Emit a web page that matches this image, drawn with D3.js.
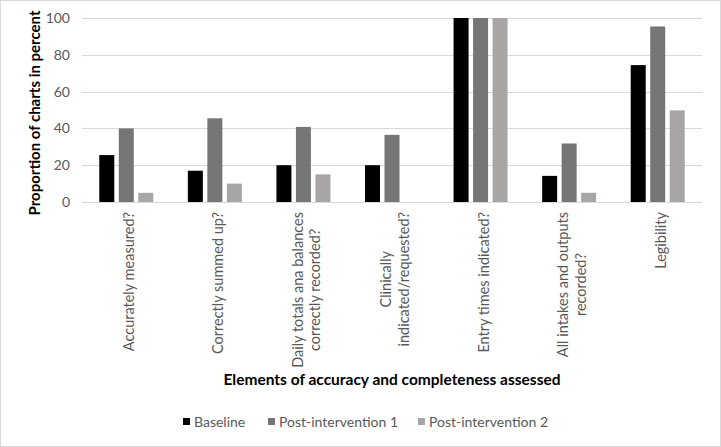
<!DOCTYPE html>
<html><head><meta charset="utf-8">
<script src="https://cdn.jsdelivr.net/npm/d3@7"></script>
<style>body{margin:0;background:#fff}svg{display:block}</style>
</head><body>
<svg id="chart" width="721" height="447"></svg>
<script>
const categories = ["Accurately measured?", "Correctly summed up?", "Daily totals ana balances\ncorrectly recorded?", "Clinically\nindicated/requested?", "Entry times indicated?", "All intakes and outputs\nrecorded?", "Legibility"];
const seriesNames = ["Baseline", "Post-intervention 1", "Post-intervention 2"];
const baseline = [25.5, 17, 20, 20, 100, 14.2, 74.4];
const post1 = [40, 45.5, 40.8, 36.5, 100, 31.8, 95.4];
const post2 = [5, 10, 15, 0, 100, 5, 49.8];
const yTicks = [0, 20, 40, 60, 80, 100];
const colors = ["#000000", "#767676", "#a8a5a4"];

const svg = d3.select("#chart");
const font = "Lato, 'Open Sans', sans-serif";
const W = 721, H = 447;
const m = {left: 82, right: 19, top: 18, bottom: 245};
const x0 = d3.scaleBand().domain(categories).range([m.left, W - m.right]);
const y = d3.scaleLinear().domain([0, 100]).range([H - m.bottom, m.top]);
const series = [baseline, post1, post2];

// outer border
svg.append("rect").attr("x", 0.5).attr("y", 0.5).attr("width", W - 1).attr("height", H - 1)
  .attr("fill", "#fff").attr("stroke", "#d9d9d9");

// gridlines
svg.append("g").selectAll("line").data(yTicks).join("line")
  .attr("x1", m.left).attr("x2", W - m.right)
  .attr("y1", d => Math.round(y(d)) + 0.5).attr("y2", d => Math.round(y(d)) + 0.5)
  .attr("stroke", "#d9d9d9").attr("stroke-width", 1);

// y axis labels
svg.append("g").selectAll("text").data(yTicks).join("text")
  .attr("x", 70).attr("y", d => y(d)).attr("dy", "0.35em")
  .attr("text-anchor", "end").attr("fill", "#595959")
  .style("font-family", font).style("font-size", "14px").text(d => d);

// bars
const barW = 15, step = 19.5;
const g = svg.append("g");
series.forEach((vals, si) => {
  g.selectAll(".s" + si).data(vals).join("rect")
    .attr("x", (d, i) => x0(categories[i]) + x0.bandwidth() / 2 + (si - 1) * step - barW / 2)
    .attr("y", d => y(d)).attr("width", barW).attr("height", d => y(0) - y(d))
    .attr("fill", colors[si]);
});

// category labels
const lh = 18;
categories.forEach(c => {
  const lines = c.split("\n");
  const cx = x0(c) + x0.bandwidth() / 2 + 3;
  const lg = svg.append("g").attr("transform", `translate(${cx},212) rotate(-90)`);
  const texts = lines.map((l, i) => lg.append("text")
    .attr("y", (i - (lines.length - 1) / 2) * lh).attr("dy", "0.35em")
    .attr("text-anchor", "middle").attr("fill", "#595959")
    .style("font-family", font).style("font-size", "14.5px").text(l));
  const maxW = d3.max(texts, t => t.node().getComputedTextLength());
  texts.forEach(t => t.attr("x", -maxW / 2));
});

// axis titles
svg.append("text").attr("x", 392).attr("y", 385).attr("text-anchor", "middle")
  .style("font-family", font).style("font-size", "15.5px").style("font-weight", "bold")
  .attr("fill", "#000").text("Elements of accuracy and completeness assessed");
svg.append("text").attr("transform", `translate(35,${(y(0) + y(100)) / 2 + 3}) rotate(-90)`)
  .attr("text-anchor", "middle").attr("dy", "0.35em")
  .style("font-family", font).style("font-size", "15px").style("font-weight", "bold")
  .attr("fill", "#000").text("Proportion of charts in percent");

// legend
const legX = [183, 268, 418];
const leg = svg.append("g");
seriesNames.forEach((n, i) => {
  leg.append("rect").attr("x", legX[i]).attr("y", 418).attr("width", 7).attr("height", 7).attr("fill", colors[i]);
  leg.append("text").attr("x", legX[i] + 11).attr("y", 422).attr("dy", "0.35em")
    .attr("fill", "#595959").style("font-family", font).style("font-size", "14px").text(n);
});
</script>
</body></html>
